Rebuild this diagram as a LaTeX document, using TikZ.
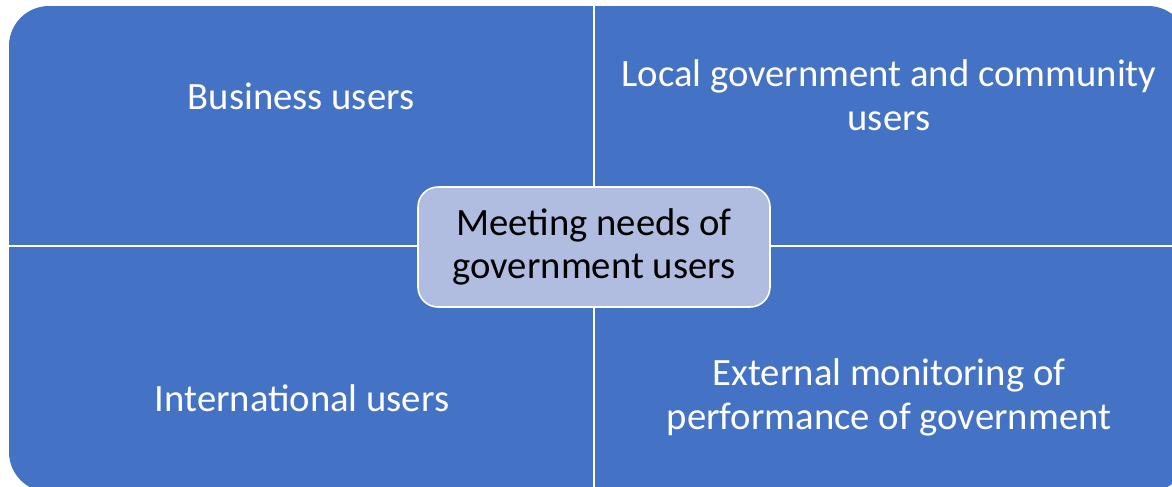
\documentclass[tikz,border=0pt]{standalone}
\usepackage{fontspec}
\setmainfont{Carlito}
\usepackage{xcolor}
\usepackage{tikz}
\usetikzlibrary{positioning}

\definecolor{quadblue}{RGB}{68,114,196}
\definecolor{hubblue}{RGB}{176,188,224}

\begin{document}
\begin{tikzpicture}[x=0.75pt, y=-0.75pt]
    \tikzstyle{quadtext} = [text=white, align=center, font=\fontsize{29}{33}\selectfont]
    \tikzstyle{hub} = [rectangle, rounded corners=15pt, draw=white, line width=1.2pt, fill=hubblue, minimum width=264pt, minimum height=90pt, inner sep=0pt, align=center, font=\fontsize{29}{32}\selectfont]

    \useasboundingbox (0,0) rectangle (1172,486);
    \clip (0,0) rectangle (1172,486);

    % Four quadrants as one rounded block, split by white lines
    \fill[quadblue, rounded corners=30pt] (9,6) rectangle (1188,492);
    \draw[white, line width=1.5pt] (594,0) -- (594,492);
    \draw[white, line width=1.5pt] (0,246) -- (1188,246);

    \node (business) [quadtext] at (301,96) {Business users};
    \node (local) [quadtext] at (889,95) {Local government and community\\users};
    \node (intl) [quadtext] at (302,398) {International users};
    \node (external) [quadtext] at (889,397) {External monitoring of\\performance of government};

    % Centre box on top of the split
    \node (needs) [hub] at (594,247) {Meeting needs of\\government users};
\end{tikzpicture}
\end{document}
